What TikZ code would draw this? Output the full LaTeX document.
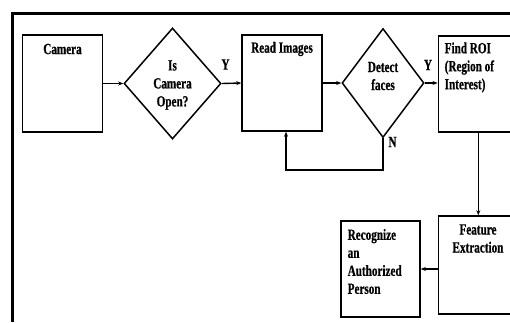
\documentclass[tikz,border=0pt]{standalone}
\usepackage{fontspec}
\setmainfont{Liberation Serif}
\newfontfamily\tb[FakeStretch=0.72,FakeBold=0.6]{Liberation Serif Bold}
\usetikzlibrary{shapes.geometric,arrows.meta}
\begin{document}
\begin{tikzpicture}[x=1pt,y=-1pt,
  box/.style={draw,line width=1.5pt,rectangle,inner sep=0pt},
  dia/.style={draw,line width=1.5pt,diamond,inner sep=0pt},
  txt/.style={font=\tb\fontsize{15.5}{18}\selectfont,inner sep=0pt},
  conn/.style={line width=1.4pt,-{Stealth[length=5pt,width=4pt]}},
  lbl/.style={font=\tb\fontsize{15.5}{18}\selectfont,inner sep=0pt}]
\useasboundingbox (0,0) rectangle (510,322);
\clip (0,0) rectangle (510,322);
\fill[white] (0,0) rectangle (510,322);
\draw[line width=3pt] (12.3,322) -- (12.3,13.3) -- (510,13.3);
% boxes
\node[box,minimum width=80pt,minimum height=97pt] (cam) at (62.5,83.5) {};
\node[dia,minimum width=97pt,minimum height=111pt] (d1) at (172.5,83.5) {};
\node[box,minimum width=80pt,minimum height=96pt] (read) at (282,83) {};
\node[dia,minimum width=82pt,minimum height=109pt] (d2) at (383,83) {};
\node[box,minimum width=100pt,minimum height=96pt] (roi) at (488.3,84) {};
\node[box,minimum width=100pt,minimum height=98pt] (feat) at (488.3,265) {};
\node[box,minimum width=79pt,minimum height=96pt] (rec) at (380.5,268.8) {};
% texts
\node[txt] (tcam) at (62.5,49) {Camera};
\node[txt,align=center] (td1) at (172.5,85) {Is\\Camera\\Open?};
\node[txt] (tread) at (282,49) {Read Images};
\node[txt,align=center] (td2) at (383,76) {Detect\\faces};
\node[txt,align=left,anchor=west] (troi) at (444.5,67.5) {Find ROI\\(Region of\\Interest)};
\node[txt,align=center] (tfeat) at (478,238.5) {Feature\\Extraction};
\node[txt,align=left,anchor=west] (trec) at (347.5,261.5) {Recognize\\an\\Authorized\\Person};
% labels
\node[lbl] (y1) at (225.5,64.5) {Y};
\node[lbl] (y2) at (428,65) {Y};
\node[lbl] (n1) at (392.5,142) {N};
% connectors
\coordinate (lb) at (286,170);
\coordinate (rs) at (478.3,132);
\coordinate (fe) at (438.3,269);
\draw[conn] (cam.east) -- (d1.west);
\draw[conn] (d1.east) -- (read.west);
\draw[conn] (read.east |- d2.west) -- (d2.west);
\draw[conn] (d2.east) -- (roi.west |- d2.east);
\draw[conn] (d2.south) |- (lb) -- (lb |- read.south);
\draw[conn] (rs) -- (rs |- feat.north);
\draw[conn] (fe) -- (rec.east |- fe);
\end{tikzpicture}
\end{document}
